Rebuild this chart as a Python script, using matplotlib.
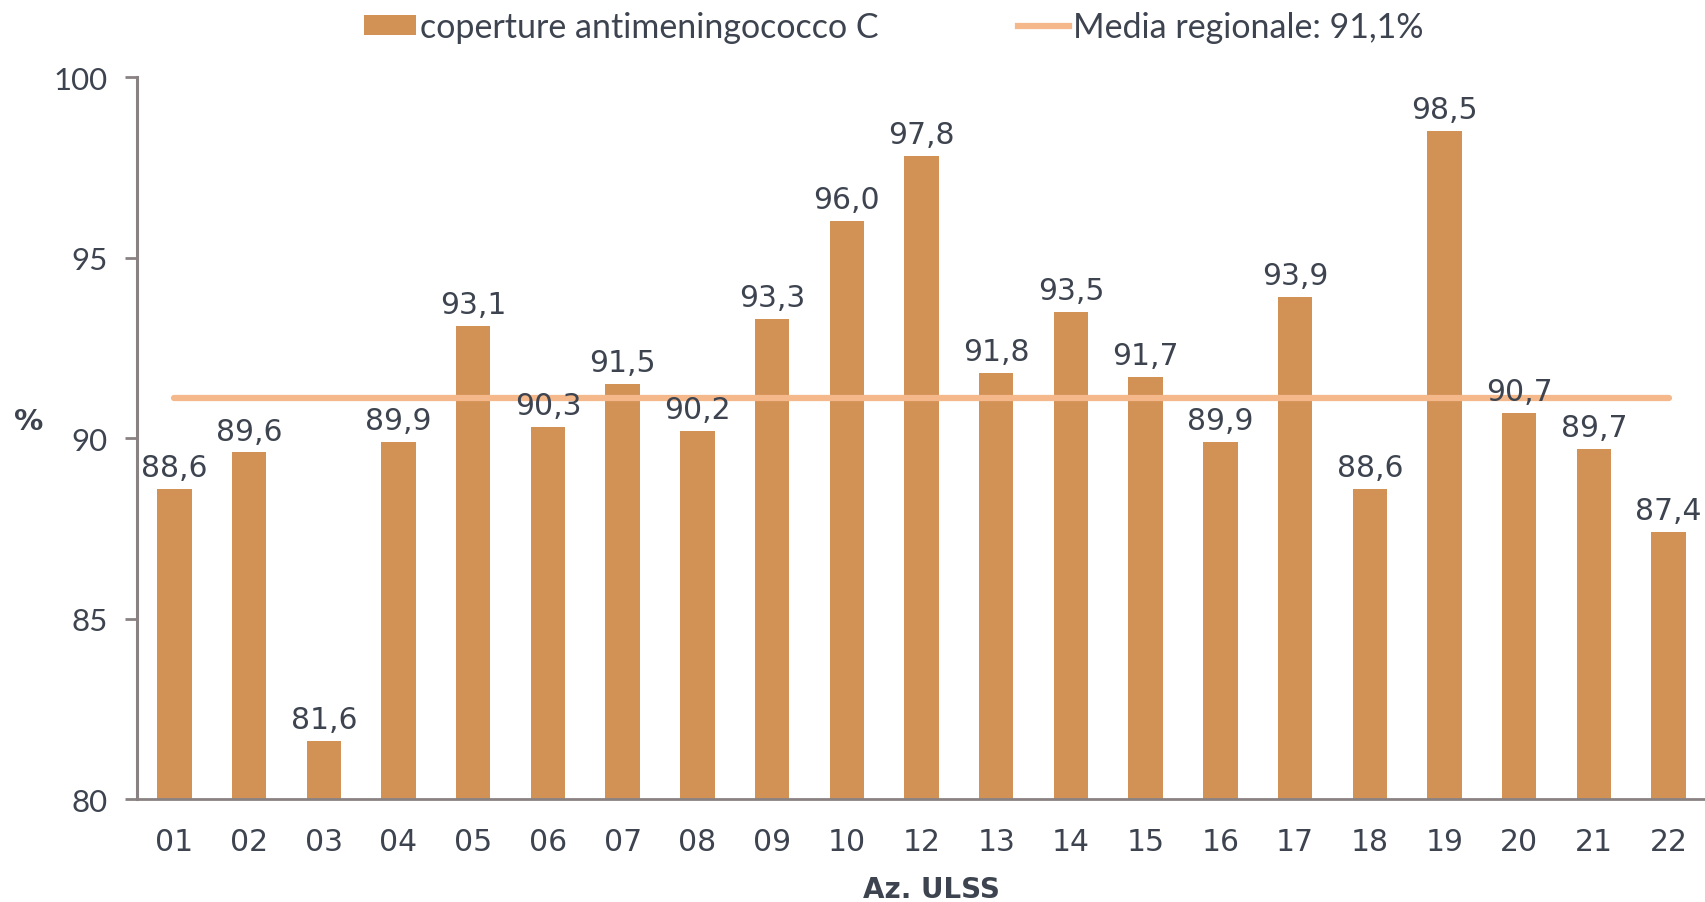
import matplotlib
matplotlib.use("Agg")
import matplotlib.pyplot as plt
from matplotlib.lines import Line2D
from matplotlib.patches import Patch

categories = ["01", "02", "03", "04", "05", "06", "07", "08", "09", "10", "12",
              "13", "14", "15", "16", "17", "18", "19", "20", "21", "22"]
values = [88.6, 89.6, 81.6, 89.9, 93.1, 90.3, 91.5, 90.2, 93.3, 96.0, 97.8,
          91.8, 93.5, 91.7, 89.9, 93.9, 88.6, 98.5, 90.7, 89.7, 87.4]
media = 91.1
yticks = [80, 85, 90, 95, 100]

bar_color = "#D29155"
line_color = "#F4B88A"
text_color = "#3d4450"
axis_color = "#8a8282"

fig = plt.figure(figsize=(17.06, 9.03), dpi=100)
ax = fig.add_axes([0.0803, 0.114, 0.9197, 0.7996])

x = list(range(len(categories)))
ax.bar(x, [v - 80 for v in values], bottom=80, width=0.46, color=bar_color, zorder=2)
ax.plot(x, [media] * len(x), color=line_color, lw=4.5, solid_capstyle="round", zorder=3)

for xi, v in zip(x, values):
    ax.annotate(f"{v:.1f}".replace(".", ","), (xi, v), xytext=(0, 5),
                textcoords="offset points", ha="center", va="bottom",
                fontsize=21.5, color=text_color, family="DejaVu Sans", zorder=4)

ax.set_xlim(-0.5, len(categories) - 0.5)
ax.set_ylim(80, 100)
ax.set_yticks(yticks)
ax.set_yticklabels([str(t) for t in yticks], family="Lato", fontsize=22.5, color=text_color)
ax.set_xticks(x)
ax.set_xticklabels(categories, family="DejaVu Sans", fontsize=21.5, color=text_color)
ax.tick_params(axis="x", length=0, pad=20)
ax.tick_params(axis="y", length=9, width=2, color=axis_color, pad=12)

for s in ["top", "right"]:
    ax.spines[s].set_visible(False)
ax.spines["left"].set_color(axis_color)
ax.spines["left"].set_linewidth(2.2)
ax.spines["bottom"].set_color(axis_color)
ax.spines["bottom"].set_linewidth(2)

fig.text(0.008, 0.533, "%", fontsize=21, fontweight="bold", color=text_color,
         family="DejaVu Sans", ha="left", va="center")
fig.text(0.546, 0.014, "Az. ULSS", fontsize=20, fontweight="bold", color=text_color,
         family="DejaVu Sans", ha="center", va="center")

handles = [Patch(facecolor=bar_color, edgecolor="none"),
           Line2D([0], [0], color=line_color, lw=4.5)]
labels = ["coperture antimeningococco C", "Media regionale: 91,1%"]
leg = fig.legend(handles, labels, loc="center", bbox_to_anchor=(0.524, 0.969), ncol=2,
                 frameon=False, prop={"family": "Lato", "size": 24.5},
                 handlelength=1.5, handleheight=0.55, handletextpad=0.12,
                 columnspacing=4.1)
for t in leg.get_texts():
    t.set_color(text_color)

fig.savefig("out.png", dpi=100)
